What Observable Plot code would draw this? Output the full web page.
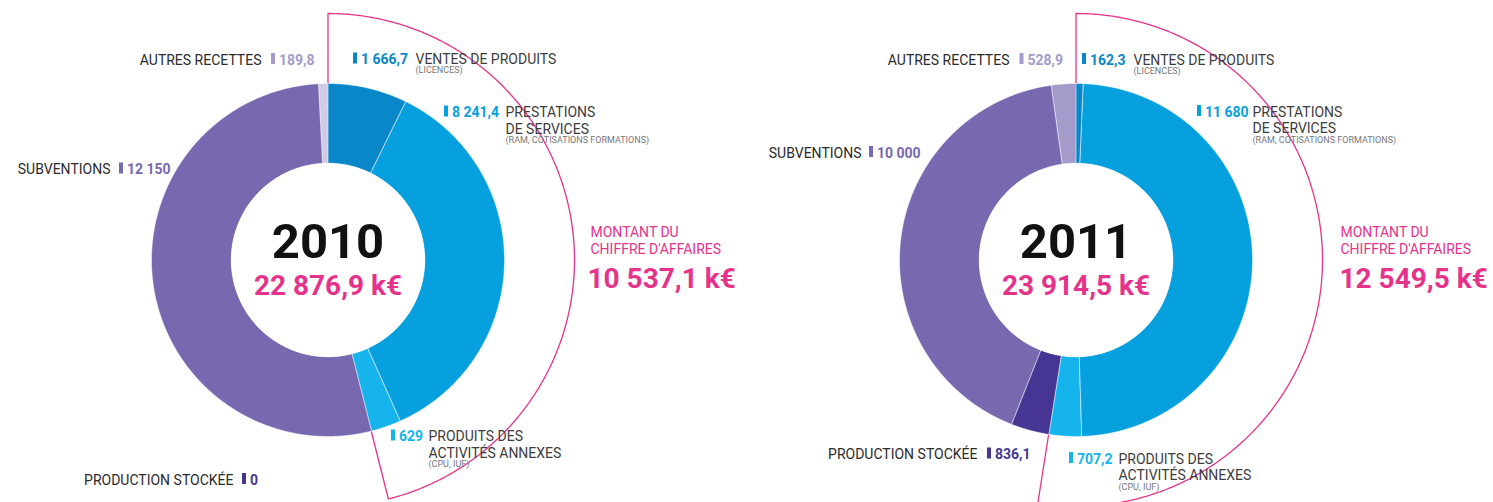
<!DOCTYPE html>
<html>
<head>
<meta charset="utf-8">
<script src="https://cdn.jsdelivr.net/npm/d3@7"></script>
<script src="https://cdn.jsdelivr.net/npm/@observablehq/plot@0.6"></script>
<style>
  html, body { margin: 0; padding: 0; background: #fff; }
  #chart { width: 1493px; height: 502px; }
</style>
</head>
<body>
<div id="chart"></div>
<script>
// ---------- DATA ----------
const categories = [
  "VENTES DE PRODUITS",
  "PRESTATIONS\nDE SERVICES",
  "PRODUITS DES\nACTIVITÉS ANNEXES",
  "PRODUCTION STOCKÉE",
  "SUBVENTIONS",
  "AUTRES RECETTES"
];
const notes = ["(LICENCES)", "(RAM, COTISATIONS FORMATIONS)", "(CPU, IUF)", "", "", ""];
const years = ["2010", "2011"];
const values2010 = [1666.7, 8241.4, 629, 0, 12150, 189.8];
const values2011 = [162.3, 11680, 707.2, 836.1, 10000, 528.9];
const caTitle = ["MONTANT DU", "CHIFFRE D'AFFAIRES"];
const caCategoryCount = 3; // the first three categories form the chiffre d'affaires

// ---------- STYLE / LAYOUT ----------
const W = 1493, H = 502;
const PINK = "#e5338b";
const R_OUT = 176.5, R_IN = 96.8, R_CA = 246.5;
const colors2010 = ["#0a87c8", "#06a0df", "#16b4ec", "#473594", "#7768b0", "#d0cce5"];
const colors2011 = ["#0a87c8", "#06a0df", "#16b4ec", "#473594", "#7768b0", "#a49bcb"];
const valueColors = ["#0a87c8", "#06a0df", "#16b4ec", "#473594", "#7768b0", "#a49bcb"];
const layout2010 = {
  cx: 327.5, cy: 259.5, caX: 587, caTitleX: 590,
  labels: [
    {side: "right", mx: 353, by: 63.5, nx: 415},
    {side: "right", mx: 444, by: 116.5, nx: 505},
    {side: "right", mx: 391, by: 440.5, nx: 428},
    {side: "left", mx: 242, by: 484, nx: 233},
    {side: "left", mx: 119, by: 173.5, nx: 110},
    {side: "left", mx: 271, by: 64, nx: 261}
  ]
};
const layout2011 = {
  cx: 1075.5, cy: 259.5, caX: 1339, caTitleX: 1340,
  labels: [
    {side: "right", mx: 1082, by: 64, nx: 1133},
    {side: "right", mx: 1197, by: 116, nx: 1252},
    {side: "right", mx: 1069, by: 463, nx: 1118},
    {side: "left", mx: 987, by: 458.5, nx: 977},
    {side: "left", mx: 869, by: 157, nx: 861},
    {side: "left", mx: 1019.5, by: 64, nx: 1009}
  ]
};

// ---------- helpers ----------
const loc = d3.formatLocale({decimal: ",", thousands: "\u00a0", grouping: [3], currency: ["", ""]});
const fmtInt = loc.format(",d"), fmt1 = loc.format(",.1f");
const fmt = v => Math.abs(v - Math.round(v)) < 1e-9 ? fmtInt(v) : fmt1(v);

const charts = [
  {year: years[0], values: values2010, colors: colors2010, ...layout2010},
  {year: years[1], values: values2011, colors: colors2011, ...layout2011}
];

const slicePts = [], sectorPts = [], centers = [], markers = [], texts = [];
const LINE = 16.8, NOTE = 9.3;

for (const c of charts) {
  const total = d3.sum(c.values);
  const ca = d3.sum(c.values.slice(0, caCategoryCount));
  const arcs = d3.pie().sort(null).value(d => d)(c.values);
  const polar = (a, r) => ({x: c.cx + r * Math.sin(a), y: c.cy - r * Math.cos(a)});
  arcs.forEach((a, i) => {
    if (!(a.endAngle > a.startAngle)) return;
    const n = Math.max(2, Math.ceil((a.endAngle - a.startAngle) / (Math.PI / 360))) + 1;
    const key = c.year + "-" + i;
    for (let k = 0; k < n; k++) {
      const t = a.startAngle + (a.endAngle - a.startAngle) * k / (n - 1);
      slicePts.push({key, color: c.colors[i], ...polar(t, R_OUT)});
    }
    for (let k = n - 1; k >= 0; k--) {
      const t = a.startAngle + (a.endAngle - a.startAngle) * k / (n - 1);
      slicePts.push({key, color: c.colors[i], ...polar(t, R_IN)});
    }
  });
  // pink sector: chiffre d'affaires share
  const caEnd = 2 * Math.PI * ca / total;
  sectorPts.push({key: c.year, x: c.cx, y: c.cy});
  const m = Math.ceil(caEnd / (Math.PI / 360)) + 1;
  for (let k = 0; k < m; k++) sectorPts.push({key: c.year, ...polar(caEnd * k / (m - 1), R_CA)});
  centers.push({x: c.cx, y: c.cy});

  // labels
  categories.forEach((name, i) => {
    const L = c.labels[i];
    markers.push({x1: L.mx, x2: L.mx + 4, y1: L.by - 11, y2: L.by, color: valueColors[i]});
    texts.push({kind: "value", x: L.mx + 7.5, y: L.by, text: fmt(c.values[i]), color: valueColors[i]});
    const lines = name.split("\n");
    lines.forEach((ln, j) => texts.push({kind: L.side === "right" ? "nameR" : "nameL", x: L.nx, y: L.by + j * LINE, text: ln}));
    if (notes[i]) texts.push({kind: "note", x: L.nx, y: L.by + (lines.length - 1) * LINE + NOTE, text: notes[i]});
  });
  texts.push({kind: "year", x: c.cx, y: 257, text: c.year});
  texts.push({kind: "total", x: c.cx, y: 294, text: fmt1(total) + "\u00a0k€"});
  caTitle.forEach((t, j) => texts.push({kind: "caTitle", x: c.caTitleX, y: 236.5 + j * 16.5, text: t}));
  texts.push({kind: "ca", x: c.caX, y: 287.5, text: fmt1(ca) + "\u00a0k€"});
}

const T = k => texts.filter(d => d.kind === k);
const base = {x: "x", y: "y", text: "text", lineAnchor: "bottom", fontFamily: "Roboto"};

const plot = Plot.plot({
  width: W, height: H,
  margin: 0,
  x: {domain: [0, W], range: [0, W], axis: null},
  y: {domain: [0, H], range: [0, H], axis: null},
  color: {type: "identity"},
  style: {background: "white", fontFamily: "Roboto"},
  marks: [
    Plot.line(sectorPts, {x: "x", y: "y", z: "key", stroke: PINK, strokeWidth: 1.3, fill: "none", curve: "linear-closed"}),
    Plot.line(slicePts, {x: "x", y: "y", z: "key", fill: "color", stroke: "white", strokeWidth: 0.5, curve: "linear-closed"}),
    Plot.dot(centers, {x: "x", y: "y", r: R_IN, fill: "white", stroke: "none"}),
    Plot.rect(markers, {x1: "x1", x2: "x2", y1: "y1", y2: "y2", fill: "color"}),
    Plot.text(T("value"), {...base, fill: "color", fontSize: 14, fontWeight: "bold", textAnchor: "start"}),
    Plot.text(T("nameR"), {...base, fill: "#3d3d3d", fontSize: 14, textAnchor: "start"}),
    Plot.text(T("nameL"), {...base, fill: "#2b2b2b", fontSize: 14, textAnchor: "end"}),
    Plot.text(T("note"), {...base, fill: "#777", fontSize: 9, textAnchor: "start"}),
    Plot.text(T("year"), {...base, fill: "#111", fontSize: 49, fontWeight: "bold", textAnchor: "middle"}),
    Plot.text(T("total"), {...base, fill: PINK, fontSize: 28, fontWeight: "bold", textAnchor: "middle"}),
    Plot.text(T("caTitle"), {...base, fill: PINK, fontSize: 14, textAnchor: "start"}),
    Plot.text(T("ca"), {...base, fill: PINK, fontSize: 28, fontWeight: "bold", textAnchor: "start"})
  ]
});
document.getElementById("chart").appendChild(plot);
</script>
</body>
</html>
